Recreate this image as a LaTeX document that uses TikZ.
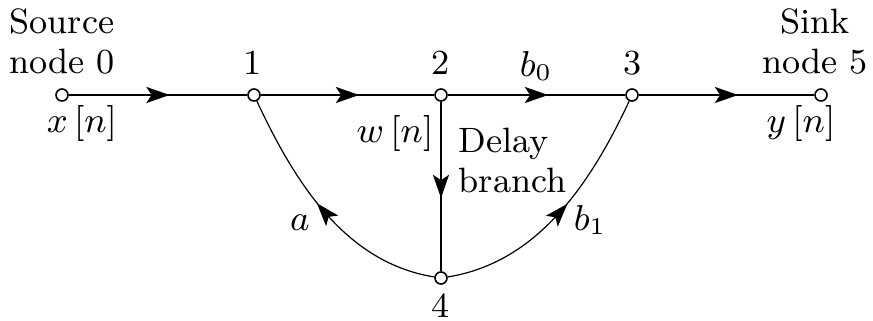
\documentclass[tikz,border=0pt]{standalone}
\usetikzlibrary{arrows.meta,decorations.markings}

\tikzset{
  sfgnode/.style={circle,draw,fill=white,line width=0.4pt,minimum size=3pt,inner sep=0pt},
  branch/.style={line width=0.5pt},
  arcbranch/.style={line width=0.3pt,looseness=0.92},
  midarrow/.style={postaction={decorate,decoration={markings,
      mark=at position 0.5 with {\arrow[xshift=2.9pt]{Stealth[length=5.8pt,width=4pt,inset=1.3pt]}}}}},
  lbl/.style={inner sep=0pt,font=\fontsize{8.8}{10}\selectfont},
}

\begin{document}
\begin{tikzpicture}[x=0.25pt,y=0.25pt]
  \useasboundingbox (0,0) rectangle (873,320);

  % signal flow nodes
  \node[sfgnode] (n0) at (62,225) {};
  \node[sfgnode] (n1) at (254,225) {};
  \node[sfgnode] (n2) at (441,225) {};
  \node[sfgnode] (n3) at (632,225) {};
  \node[sfgnode] (n5) at (821,225) {};
  \node[sfgnode] (n4) at (441,42) {};

  % branches
  \draw[branch,midarrow] (n0) -- (n1);
  \draw[branch,midarrow] (n1) -- (n2);
  \draw[branch,midarrow] (n2) -- (n3);
  \draw[branch,midarrow] (n3) -- (n5);
  \draw[branch,midarrow] (n2) -- (n4);
  \draw[arcbranch,midarrow] (n4) to[out=171,in=-65] (n1);
  \draw[arcbranch,midarrow] (n4) to[out=9,in=-115] (n3);

  % labels
  \node[lbl,align=center,anchor=south] (src) at (62,245) {Source\\node 0};
  \node[lbl,align=center,anchor=south] (snk) at (815,245) {Sink\\node 5};
  \node[lbl,anchor=base] (l1) at (253,245) {1};
  \node[lbl,anchor=base] (l2) at (441,245) {2};
  \node[lbl,anchor=base] (l3) at (633,245) {3};
  \node[lbl,anchor=base] (l4) at (441,3) {4};
  \node[lbl,anchor=base] (gb0) at (536,243) {$b_0$};
  \node[lbl,anchor=base] (xin) at (82,187) {$x\,[n]$};
  \node[lbl,anchor=base] (yout) at (801,187) {$y\,[n]$};
  \node[lbl,anchor=base] (wn) at (395,177) {$w\,[n]$};
  \node[lbl,align=left,anchor=north west] (dly) at (458,193) {Delay\\branch};
  \node[lbl,anchor=base] (ga) at (300,90) {$a$};
  \node[lbl,anchor=base] (gb1) at (590,89) {$b_1$};
\end{tikzpicture}
\end{document}
